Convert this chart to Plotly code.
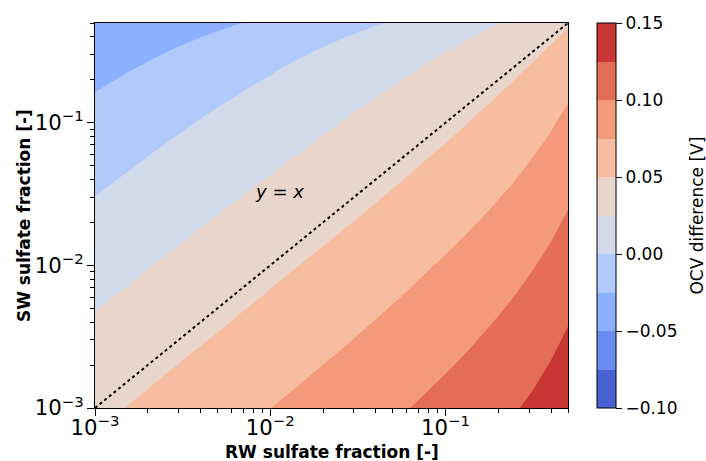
import math
import plotly.graph_objects as go

# Sulfate fractions of the two waters (grid nodes, log-spaced)
rw_fraction = [0.001, 0.00178, 0.00316, 0.00562, 0.01, 0.0178, 0.0316, 0.0562,
               0.1, 0.133, 0.178, 0.237, 0.316, 0.398, 0.5]
sw_fraction = [0.001, 0.00178, 0.00316, 0.00562, 0.01, 0.0178, 0.0316, 0.0562,
               0.1, 0.133, 0.178, 0.237, 0.316, 0.398, 0.5]

# OCV difference [V]; one row per SW fraction, one column per RW fraction
ocv_diff = [
    [0.0450, 0.0524, 0.0599, 0.0673, 0.0748, 0.0824, 0.0902, 0.0983, 0.1071, 0.1118, 0.1170, 0.1225, 0.1288, 0.1348, 0.1420],
    [0.0376, 0.0450, 0.0525, 0.0599, 0.0674, 0.0750, 0.0828, 0.0909, 0.0997, 0.1044, 0.1096, 0.1151, 0.1214, 0.1274, 0.1346],
    [0.0301, 0.0375, 0.0450, 0.0524, 0.0599, 0.0675, 0.0753, 0.0834, 0.0922, 0.0969, 0.1021, 0.1076, 0.1139, 0.1199, 0.1271],
    [0.0227, 0.0301, 0.0376, 0.0450, 0.0525, 0.0601, 0.0679, 0.0760, 0.0848, 0.0895, 0.0947, 0.1002, 0.1065, 0.1125, 0.1197],
    [0.0152, 0.0226, 0.0301, 0.0375, 0.0450, 0.0526, 0.0604, 0.0685, 0.0773, 0.0820, 0.0872, 0.0927, 0.0990, 0.1050, 0.1122],
    [0.0074, 0.0148, 0.0223, 0.0297, 0.0372, 0.0448, 0.0526, 0.0607, 0.0695, 0.0742, 0.0794, 0.0849, 0.0912, 0.0972, 0.1044],
    [-0.0005, 0.0069, 0.0144, 0.0218, 0.0293, 0.0369, 0.0447, 0.0528, 0.0616, 0.0663, 0.0715, 0.0770, 0.0833, 0.0893, 0.0965],
    [-0.0085, -0.0011, 0.0064, 0.0138, 0.0213, 0.0289, 0.0367, 0.0448, 0.0536, 0.0583, 0.0635, 0.0690, 0.0753, 0.0813, 0.0885],
    [-0.0170, -0.0096, -0.0021, 0.0053, 0.0128, 0.0204, 0.0282, 0.0363, 0.0451, 0.0498, 0.0550, 0.0605, 0.0668, 0.0728, 0.0800],
    [-0.0215, -0.0141, -0.0066, 0.0008, 0.0083, 0.0159, 0.0237, 0.0318, 0.0406, 0.0453, 0.0505, 0.0560, 0.0623, 0.0683, 0.0755],
    [-0.0264, -0.0190, -0.0115, -0.0041, 0.0034, 0.0110, 0.0188, 0.0269, 0.0357, 0.0404, 0.0456, 0.0511, 0.0574, 0.0634, 0.0706],
    [-0.0315, -0.0241, -0.0166, -0.0092, -0.0017, 0.0059, 0.0137, 0.0218, 0.0306, 0.0353, 0.0405, 0.0460, 0.0523, 0.0583, 0.0655],
    [-0.0373, -0.0299, -0.0224, -0.0150, -0.0075, 0.0001, 0.0079, 0.0160, 0.0248, 0.0295, 0.0347, 0.0402, 0.0465, 0.0525, 0.0597],
    [-0.0430, -0.0356, -0.0281, -0.0207, -0.0132, -0.0056, 0.0022, 0.0103, 0.0191, 0.0238, 0.0290, 0.0345, 0.0408, 0.0468, 0.0540],
    [-0.0498, -0.0424, -0.0349, -0.0275, -0.0200, -0.0124, -0.0046, 0.0035, 0.0123, 0.0170, 0.0222, 0.0277, 0.0340, 0.0400, 0.0472],
]

# Contour levels and band colours (coolwarm sampled at band centres)
level_start, level_end, level_step = -0.10, 0.15, 0.025
band_colors = ["#4962D3", "#6A8BEF", "#8DB0FE", "#B0CAFC", "#D0DAEB",
               "#E9D5CA", "#F7BDA1", "#F49A7B", "#E46D56", "#C73534"]
cbar_ticks = [-0.10, -0.05, 0.0, 0.05, 0.10, 0.15]

# y = x reference line end points
diag_x = [0.001, 0.5]
diag_y = [0.001, 0.5]

FONT = "DejaVu Sans"
W, H = 706, 461
ML, MR, MT, MB = 95, 138, 23, 53
PW, PH = W - ML - MR, H - MT - MB

# Contour fill colours: plotly samples the scale at level + step/2 over an
# 11-slot domain, so each band colour is centred on its sample point.
n_slots = len(band_colors) + 1
fill_scale = [[0.0, band_colors[0]]]
for i, c in enumerate(band_colors):
    fill_scale.append([(i + 0.5) / n_slots, c])
    fill_scale.append([(i + 1.5) / n_slots, c])
fill_scale.append([1.0, band_colors[-1]])

# Colour bar scale: one equal step per band between the first and last level
bar_scale = []
for i, c in enumerate(band_colors):
    bar_scale.append([i / len(band_colors), c])
    bar_scale.append([(i + 1) / len(band_colors), c])

fig = go.Figure()

fig.add_trace(go.Contour(
    x=rw_fraction, y=sw_fraction, z=ocv_diff,
    colorscale=fill_scale, showscale=False,
    contours=dict(start=level_start, end=level_end, size=level_step,
                  coloring="fill", showlines=False),
    line=dict(width=0, smoothing=1.0),
    hoverinfo="skip",
))

# colour bar carrier
fig.add_trace(go.Scatter(
    x=[diag_x[0]], y=[diag_y[0]], mode="markers",
    marker=dict(size=1, opacity=0, color=[level_start],
                cmin=level_start, cmax=level_end, colorscale=bar_scale,
                showscale=True,
                colorbar=dict(
                    x=(597.5 - ML) / PW, xanchor="left", xpad=0, ypad=0,
                    y=0.5, yanchor="middle", len=1.0, lenmode="fraction",
                    thickness=19, outlinewidth=1, outlinecolor="black",
                    tickmode="array", tickvals=cbar_ticks,
                    ticktext=[f"{v:.2f}".replace("-", "\u2212") for v in cbar_ticks],
                    ticks="outside", ticklen=6, tickwidth=1, tickcolor="black",
                    tickfont=dict(family=FONT, size=17, color="black"),
                )),
    showlegend=False, hoverinfo="skip",
))

fig.add_trace(go.Scatter(
    x=diag_x, y=diag_y, mode="lines",
    line=dict(color="black", width=2, dash="dot"),
    showlegend=False, hoverinfo="skip",
))

axis_common = dict(
    type="log", dtick=1, exponentformat="power", showgrid=False, zeroline=False,
    showline=True, linecolor="black", linewidth=1, mirror=True,
    ticks="outside", ticklen=7, tickwidth=1, tickcolor="black",
    tickfont=dict(family=FONT, size=17, color="black"),
    minor=dict(ticks="outside", ticklen=4, tickwidth=1, tickcolor="black",
               dtick="D1", showgrid=False),
    automargin=False,
)

fig.update_xaxes(
    range=[math.log10(diag_x[0]), math.log10(diag_x[1])],
    ticklabelstandoff=-6,
    **axis_common,
)
fig.update_yaxes(
    range=[math.log10(diag_y[0]), math.log10(diag_y[1])],
    **axis_common,
)

def px_x(p):
    return (p - ML) / PW

def px_y(p):
    return (H - MB - p) / PH

# axis titles
fig.add_annotation(
    x=px_x(331.5), y=px_y(452), xref="paper", yref="paper",
    text="<b>RW sulfate fraction [-]</b>", showarrow=False,
    xanchor="center", yanchor="middle",
    font=dict(family=FONT, size=17, color="black"),
)
fig.add_annotation(
    x=px_x(23.5), y=px_y(215.6), xref="paper", yref="paper",
    text="<b>SW sulfate fraction [-]</b>", showarrow=False, textangle=-90,
    xanchor="center", yanchor="middle",
    font=dict(family=FONT, size=17, color="black"),
)
fig.add_annotation(
    x=px_x(697), y=px_y(215.6), xref="paper", yref="paper",
    text="OCV difference [V]", showarrow=False, textangle=-90,
    xanchor="center", yanchor="middle",
    font=dict(family=FONT, size=17, color="black"),
)

# label for the reference line (position in log units of the axes)
fig.add_annotation(
    x=-2.1, y=-1.484, xref="x", yref="y",
    text="<i>y</i> = <i>x</i>", showarrow=False,
    xanchor="left", yanchor="middle",
    font=dict(family=FONT, size=18, color="black"),
)

fig.update_layout(
    width=W, height=H,
    margin=dict(l=ML, r=MR, t=MT, b=MB),
    paper_bgcolor="white", plot_bgcolor="white",
    showlegend=False,
)

fig.write_html("out.html")
